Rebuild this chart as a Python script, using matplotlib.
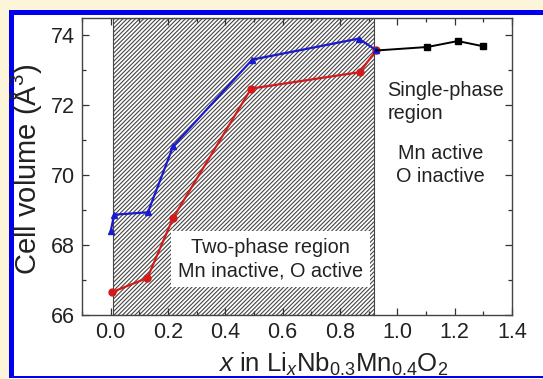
import matplotlib
matplotlib.use("Agg")
import matplotlib.pyplot as plt
from matplotlib.patches import Rectangle
from matplotlib.ticker import MultipleLocator

plt.rcParams['font.family'] = ['Liberation Sans', 'DejaVu Sans']
plt.rcParams['mathtext.fontset'] = 'custom'
plt.rcParams['mathtext.rm'] = 'Liberation Sans'
plt.rcParams['mathtext.it'] = 'Liberation Sans:italic'
plt.rcParams['hatch.color'] = '#333333'
plt.rcParams['hatch.linewidth'] = 0.8

# Data
blue_x = [0.0, 0.012, 0.13, 0.218, 0.494, 0.865, 0.926]
blue_y = [68.39, 68.87, 68.94, 70.83, 73.31, 73.91, 73.58]
red_x = [0.006, 0.128, 0.218, 0.49, 0.869, 0.926]
red_y = [66.66, 67.06, 68.78, 72.48, 72.95, 73.57]
black_x = [0.926, 1.105, 1.211, 1.30]
black_y = [73.57, 73.67, 73.84, 73.69]
two_phase_span = (0.007, 0.92)

W, H = 543, 379
fig = plt.figure(figsize=(W / 100, H / 100), dpi=100)
fig.patch.set_facecolor('#fdf5da')

# blue frame
fig.patches.append(Rectangle((9 / W, 1 / H), 1.0, 368 / H, transform=fig.transFigure,
                             facecolor='#0000ee', edgecolor='none', zorder=-2))
fig.patches.append(Rectangle((14 / W, 3 / H), 1.0, 361 / H, transform=fig.transFigure,
                             facecolor='white', edgecolor='none', zorder=-1))

ax = fig.add_axes([82 / W, 64 / H, (512 - 82) / W, (315 - 18) / H])
ax.set_xlim(-0.1, 1.4)
ax.set_ylim(66, 74.5)

ax.add_patch(Rectangle((two_phase_span[0], 66), two_phase_span[1] - two_phase_span[0], 8.5,
                       facecolor='white', edgecolor='#444444', hatch='////////', linewidth=0.8, zorder=0))

ax.plot(red_x, red_y, '-o', color='#d41a1a', lw=1.6, ms=5, zorder=3)
ax.plot(blue_x, blue_y, '-^', color='#1a1ad0', lw=1.6, ms=5, zorder=3)
ax.plot(black_x, black_y, '-s', color='black', lw=1.4, ms=5, zorder=3,
        markevery=[1, 2, 3])

ax.text(0.557, 67.6, "Two-phase region\nMn inactive, O active", ha='center', va='center',
        fontsize=14.3, color='#222222', linespacing=1.3,
        bbox=dict(facecolor='white', edgecolor='none', pad=5), zorder=4)
ax.text(0.965, 72.1, "Single-phase\nregion", ha='left', va='center',
        fontsize=14.3, color='#222222', linespacing=1.3)
ax.text(1.15, 70.3, "Mn active\nO inactive", ha='center', va='center',
        fontsize=14.3, color='#222222', linespacing=1.3)

ax.xaxis.set_major_locator(MultipleLocator(0.2))
ax.xaxis.set_minor_locator(MultipleLocator(0.1))
ax.yaxis.set_major_locator(MultipleLocator(2))
ax.yaxis.set_minor_locator(MultipleLocator(1))
ax.tick_params(which='both', direction='in', top=True, right=True, colors='#333333',
               labelcolor='#222222', labelsize=15.5)
ax.tick_params(which='major', length=5, width=0.9, pad=5)
ax.tick_params(which='minor', length=3, width=0.9)
ax.set_xticks([0.0, 0.2, 0.4, 0.6, 0.8, 1.0, 1.2, 1.4])
ax.set_xticklabels(['0.0', '0.2', '0.4', '0.6', '0.8', '1.0', '1.2', '1.4'])
for s in ax.spines.values():
    s.set_color('#444444')
    s.set_linewidth(1.0)

ax.set_ylabel("Cell volume (Å$^3$)", fontsize=21, color='#222222')
ax.yaxis.set_label_coords(-0.088, 0.49)
ax.set_xlabel(r"$\it{x}$ in Li$_x$Nb$_{0.3}$Mn$_{0.4}$O$_2$", fontsize=18.5, color='#222222')
ax.xaxis.set_label_coords(0.584, -0.12)

fig.savefig("out.png", dpi=100, facecolor=fig.get_facecolor())
